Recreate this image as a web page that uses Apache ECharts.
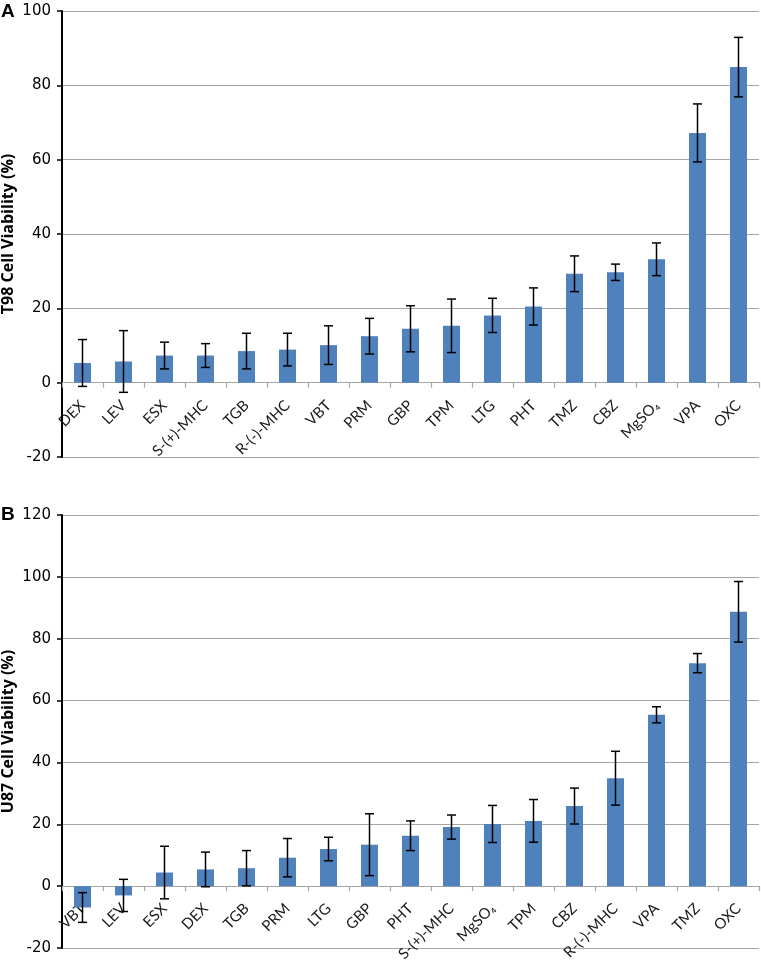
<!DOCTYPE html>
<html>
<head>
<meta charset="utf-8">
<script src="https://cdn.jsdelivr.net/npm/echarts@6/dist/echarts.min.js"></script>
<style>
html,body{margin:0;padding:0;background:#fff;}
#main{width:761px;height:974px;}
</style>
</head>
<body>
<div id="main"></div>
<script>
// Panel A (T98)
const catsA = ['DEX','LEV','ESX','S-(+)-MHC','TGB','R-(-)-MHC','VBT','PRM','GBP','TPM','LTG','PHT','TMZ','CBZ','MgSO₄','VPA','OXC'];
const valsA = [5.3, 5.7, 7.3, 7.3, 8.5, 8.9, 10.1, 12.5, 14.5, 15.3, 18.1, 20.5, 29.3, 29.7, 33.2, 67.2, 84.9];
const errA  = [6.3, 8.3, 3.6, 3.2, 4.8, 4.4, 5.2, 4.8, 6.2, 7.2, 4.6, 5.0, 4.8, 2.2, 4.4, 7.8, 8.0];
const ticksA = {min: -20, max: 100, interval: 20};

// Panel B (U87)
const catsB = ['VBT','LEV','ESX','DEX','TGB','PRM','LTG','GBP','PHT','S-(+)-MHC','MgSO₄','TPM','CBZ','R-(-)-MHC','VPA','TMZ','OXC'];
const valsB = [-6.9, -3.0, 4.4, 5.4, 5.8, 9.2, 12.0, 13.4, 16.3, 19.1, 20.1, 21.1, 25.9, 34.9, 55.4, 72.1, 88.7];
const errB  = [4.8, 5.2, 8.5, 5.6, 5.7, 6.2, 3.8, 10.0, 4.8, 3.9, 6.0, 6.9, 5.8, 8.7, 2.6, 3.1, 9.8];
const ticksB = {min: -20, max: 120, interval: 20};

const barColor = '#4f81bd';
const gridColor = '#a6a6a6';

function errData(vals, errs){
  return vals.map((v,i)=>[i, v - errs[i], v + errs[i]]);
}

function renderErr(params, api){
  const x = api.value(0);
  const lo = api.coord([x, api.value(1)]);
  const hi = api.coord([x, api.value(2)]);
  const hw = 4.5;
  const style = {stroke:'#000', lineWidth:1.5};
  return {
    type:'group',
    children:[
      {type:'line', shape:{x1:lo[0],y1:lo[1],x2:hi[0],y2:hi[1]}, style},
      {type:'line', shape:{x1:hi[0]-hw,y1:hi[1],x2:hi[0]+hw,y2:hi[1]}, style},
      {type:'line', shape:{x1:lo[0]-hw,y1:lo[1],x2:lo[0]+hw,y2:lo[1]}, style}
    ]
  };
}

// labelShift: distance (px) from grid bottom up to the zero line, so labels sit under the zero line
function xAxisCfg(cats, gi, labelShift){
  return {
    type:'category', gridIndex: gi, data: cats,
    axisLine:{show:true, onZero:true, lineStyle:{color:gridColor, width:1.2}},
    axisTick:{show:true, length:5, lineStyle:{color:gridColor, width:1.2}},
    axisLabel:{interval:0, rotate:45, fontFamily:'Lato', fontSize:15, color:'#1a1a1a', margin:20 - labelShift}
  };
}
function yAxisCfg(t, name, gi){
  return {
    type:'value', gridIndex: gi, min:t.min, max:t.max, interval:t.interval,
    name: name, nameLocation:'middle', nameGap:46, nameMoveOverlap:false,
    nameTextStyle:{fontFamily:'Open Sans', fontWeight:'bold', fontSize:16, color:'#000'},
    axisLine:{show:true, lineStyle:{color:'#000', width:2}},
    axisTick:{show:true, length:5, lineStyle:{color:'#000', width:1.5}},
    axisLabel:{fontFamily:'DejaVu Sans', fontSize:15, color:'#000', margin:11},
    splitLine:{show:true, lineStyle:{color:gridColor, width:1.2}}
  };
}

const chart = echarts.init(document.getElementById('main'), null, {renderer:'canvas'});
chart.setOption({
  animation:false,
  backgroundColor:'#fff',
  graphic:[
    {type:'text', left:1, top:2, style:{text:'A', font:'bold 19px "Liberation Sans"', fill:'#000'}},
    {type:'text', left:1, top:505, style:{text:'B', font:'bold 19px "Liberation Sans"', fill:'#000'}}
  ],
  grid:[
    {left:62, right:2, top:11, height:446, outerBoundsMode:'none', containLabel:false},
    {left:62, right:2, top:515, height:433, outerBoundsMode:'none', containLabel:false}
  ],
  xAxis:[xAxisCfg(catsA,0,74), xAxisCfg(catsB,1,62)],
  yAxis:[yAxisCfg(ticksA,'T98 Cell Viability (%)',0), yAxisCfg(ticksB,'U87 Cell Viability (%)',1)],
  series:[
    {type:'bar', xAxisIndex:0, yAxisIndex:0, data:valsA, barWidth:17, itemStyle:{color:barColor}},
    {type:'custom', xAxisIndex:0, yAxisIndex:0, data:errData(valsA,errA), renderItem:renderErr, z:5},
    {type:'bar', xAxisIndex:1, yAxisIndex:1, data:valsB, barWidth:17, itemStyle:{color:barColor}},
    {type:'custom', xAxisIndex:1, yAxisIndex:1, data:errData(valsB,errB), renderItem:renderErr, z:5}
  ]
});
</script>
</body>
</html>
